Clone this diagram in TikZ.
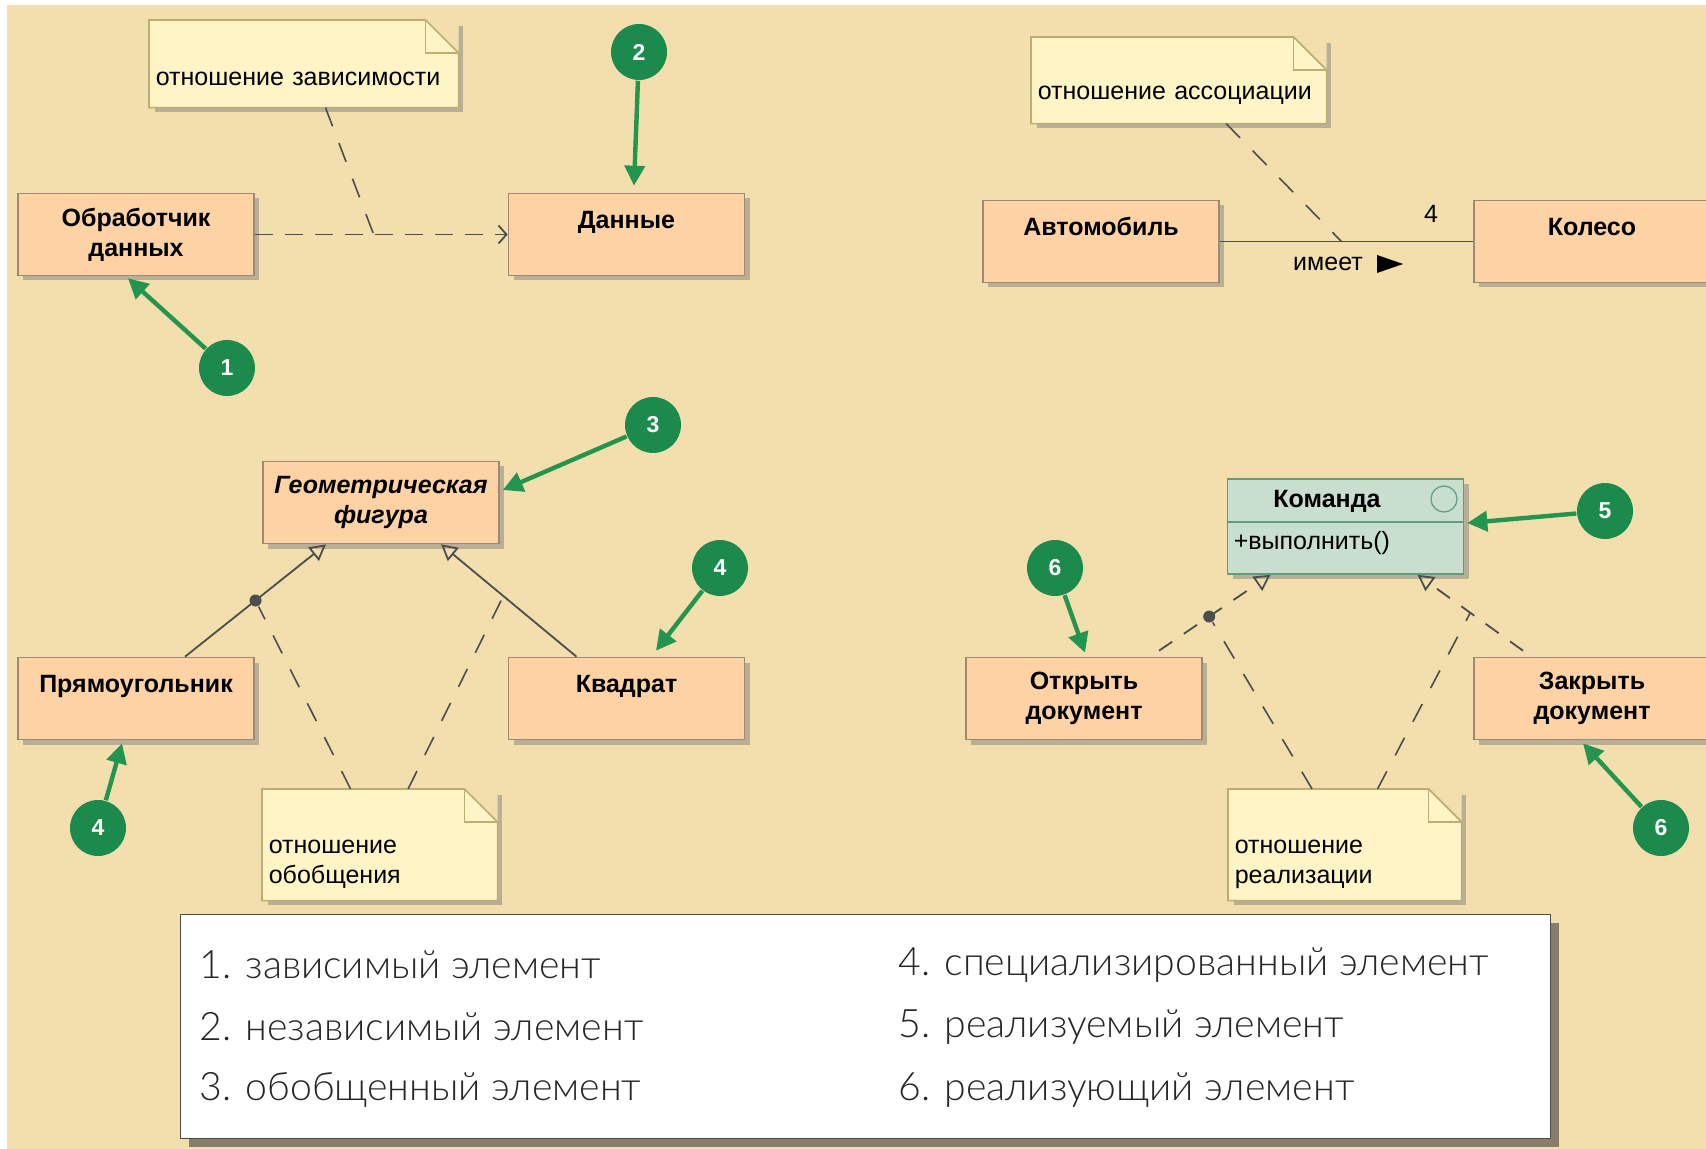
\documentclass[tikz,border=0pt]{standalone}
\usepackage{fontspec}
\setmainfont{Liberation Sans}
\newfontfamily\legendfont{Lato Light}
\usetikzlibrary{shapes, positioning, arrows.meta, shadows, calc}

\definecolor{bgtan}{HTML}{F2DFAD}
\definecolor{boxfill}{HTML}{FDD3A5}
\definecolor{boxline}{HTML}{9C8A72}
\definecolor{notefill}{HTML}{FFF4C6}
\definecolor{noteline}{HTML}{BCAE73}
\definecolor{cmdfill}{HTML}{C8DECF}
\definecolor{cmdline}{HTML}{5E9C80}
\definecolor{callgreen}{HTML}{1B8A4C}
\definecolor{arrowgreen}{HTML}{23954F}
\definecolor{relline}{HTML}{4D4D4D}

% folded corner and outline of a note
\newcommand{\notecorner}[1]{%
  \fill[bgtan] ([xshift=-16.5pt]#1.north east) -- (#1.north east) -- ([yshift=-16.5pt]#1.north east) -- cycle;
  \draw[noteline, line width=0.8pt] ([xshift=-16.5pt]#1.north east) -- (#1.north west) -- (#1.south west)
    -- (#1.south east) -- ([yshift=-16.5pt]#1.north east) -- cycle;
  \draw[noteline, line width=0.8pt] ([xshift=-16.5pt]#1.north east) |- ([yshift=-16.5pt]#1.north east);
}

\begin{document}
\begin{tikzpicture}[x=0.5pt, y=-0.5pt, thick,
    cls/.style = {draw=boxline, fill=boxfill, line width=0.8pt, minimum width=118pt, minimum height=41pt,
        align=center, font=\fontsize{12.5}{15}\selectfont\bfseries,
        drop shadow={shadow xshift=2.5pt, shadow yshift=-2.5pt, fill=black!50, opacity=.5}},
    note/.style = {fill=notefill, anchor=north west, align=left, inner xsep=3pt, inner ysep=0pt,
        font=\fontsize{12.5}{15}\selectfont,
        drop shadow={shadow xshift=2.5pt, shadow yshift=-2.5pt, fill=black!50, opacity=.5}},
    call/.style = {circle, fill=callgreen, minimum size=28pt, inner sep=0pt, text=white,
        font=\fontsize{11.5}{11.5}\selectfont\bfseries},
    callarrow/.style = {arrowgreen, line width=2.2pt, -{Triangle[length=10pt, width=10pt]}},
    dep/.style = {relline, line width=0.9pt, dash pattern=on 9pt off 6pt, -{Straight Barb[length=4pt, width=9pt]}},
    assoc/.style = {relline, line width=0.9pt},
    gen/.style = {relline, line width=0.9pt, -{Triangle[open, length=8pt, width=8.5pt]}},
    real/.style = {gen, dash pattern=on 8pt off 7pt},
    notelink/.style = {relline, line width=0.8pt, dash pattern=on 10pt off 9pt},
    joint/.style = {circle, fill=relline, inner sep=0pt, minimum size=6pt},
    plain/.style = {font=\fontsize{12.5}{15}\selectfont},
    legendtxt/.style = {anchor=west, text=black!85, font=\legendfont\fontsize{19.6}{24}\selectfont}
]
\fill[white] (0,0) rectangle (1706,1149);
\fill[bgtan] (7,5) rectangle (1706,1149);
\useasboundingbox (0,0) rectangle (1706,1149);

% dependency
\node[note, minimum width=154pt, minimum height=43pt, text width=148pt] (depnote) at (149,20) {\mbox{}\\[6.5pt]отношение зависимости};
\notecorner{depnote}
\node[cls] (proc) at (136,234.5) {Обработчик\\данных};
\node[cls] (data) at (626.5,234.5) {Данные\\\mbox{}};
\draw[dep] (proc) -- (data);
\draw[notelink] ($(depnote.south west)!.57!(depnote.south east)$) -- ($(proc.east)!.47!(data.west)$);

% association
\node[note, minimum width=147pt, minimum height=42.5pt, text width=141pt] (assocnote) at (1031,37) {\mbox{}\\[6.5pt]отношение ассоциации};
\notecorner{assocnote}
\node[cls] (car) at (1101,241.5) {Автомобиль\\\mbox{}};
\node[cls] (wheel) at (1592,241.5) {Колесо\\\mbox{}};
\draw[assoc] (car) -- (wheel);
\draw[notelink] ($(assocnote.south west)!.66!(assocnote.south east)$) -- ($(car.east)!.48!(wheel.west)$);
\node[plain] (mult) at (1431,214) {4};
\node[plain] (verb) at (1328,264) {имеет};
\coordinate (verbdir) at (1390,264);
\fill ([shift={(-13,-9)}]verbdir) -- ([shift={(13,0)}]verbdir) -- ([shift={(-13,9)}]verbdir) -- cycle;

% generalization
\node[cls, font=\fontsize{12.5}{15}\selectfont\bfseries\itshape] (figure) at (381,502.5) {Геометрическая\\фигура};
\node[cls] (rect) at (136,698.5) {Прямоугольник\\\mbox{}};
\node[cls] (square) at (626.5,698.5) {Квадрат\\\mbox{}};
\draw[gen] ([shift={(49,0)}]rect.north) -- node[joint, pos=.5] (genjoint) {} ([shift={(-55,0)}]figure.south);
\draw[gen] ([shift={(-50,0)}]square.north) -- coordinate[pos=.54] (genhook) ([shift={(60,0)}]figure.south);
\node[note, minimum width=117pt, minimum height=55pt, text width=111pt] (gennote) at (262,789) {\mbox{}\\[11pt]отношение\\обобщения};
\notecorner{gennote}
\draw[notelink] ($(gennote.north west)!.376!(gennote.north east)$) -- (genjoint);
\draw[notelink] ($(gennote.north west)!.62!(gennote.north east)$) -- (genhook);

% realization
\node[draw=cmdline, fill=cmdfill, line width=0.8pt, minimum width=118pt, minimum height=47.5pt,
    drop shadow={shadow xshift=2.5pt, shadow yshift=-2.5pt, fill=black!50, opacity=.5}] (cmd) at (1345.5,526.5) {};
\coordinate (cmdsplit) at (1345.5,522);
\draw[cmdline, line width=0.8pt] (cmd.west |- cmdsplit) -- (cmd.east |- cmdsplit);
\node[font=\fontsize{12.5}{15}\selectfont\bfseries] (cmdname) at (1327,501) {Команда};
\node[circle, draw=cmdline, line width=0.6pt, minimum size=13pt, inner sep=0pt] (cmdicon) at (1444,499) {};
\node[plain, anchor=west, inner sep=0pt] (cmdop) at (1233,543) {+выполнить()};
\node[cls] (open) at (1084,698.5) {Открыть\\документ};
\node[cls] (close) at (1592,698.5) {Закрыть\\документ};
\draw[real] ([shift={(75,-6)}]open.north) -- node[joint, pos=.45] (realjoint) {} ([shift={(-75,0)}]cmd.south);
\draw[real] ([shift={(-69,-6)}]close.north) -- coordinate[pos=.5] (realhook) ([shift={(72,0)}]cmd.south);
\node[note, minimum width=116pt, minimum height=55pt, text width=110pt] (realnote) at (1228,789) {\mbox{}\\[11pt]отношение\\реализации};
\notecorner{realnote}
\draw[notelink] ($(realnote.north west)!.36!(realnote.north east)$) -- (realjoint);
\draw[notelink] ($(realnote.north west)!.64!(realnote.north east)$) -- (realhook);

% callouts
\node[call] (c1) at (227,368) {1};
\node[call] (c2) at (639,52) {2};
\node[call] (c3) at (653,425) {3};
\node[call] (c4a) at (720,568) {4};
\node[call] (c4b) at (98,828) {4};
\node[call] (c5) at (1605,511) {5};
\node[call] (c6a) at (1055,568) {6};
\node[call] (c6b) at (1661,828) {6};
\draw[callarrow] (c1) -- ([shift={(-8,2)}]proc.south);
\draw[callarrow] (c2) -- ([shift={(7.5,-7)}]data.north);
\draw[callarrow] (c3) -- ([shift={(3,-12.5)}]figure.east);
\draw[callarrow] (c4a) -- ([shift={(29.5,-6)}]square.north);
\draw[callarrow] (c4b) -- ([shift={(-14,3)}]rect.south);
\draw[callarrow] (c5) -- ([shift={(3,-3.5)}]cmd.east);
\draw[callarrow] (c6a) -- ([shift={(1,-4)}]open.north);
\draw[callarrow] (c6b) -- ([shift={(-9,3)}]close.south);

% legend
\node[draw=black!70, fill=white, line width=0.6pt, anchor=north west, minimum width=685pt, minimum height=112pt,
    drop shadow={shadow xshift=4pt, shadow yshift=-4pt, fill=black!75, opacity=.6}] (legend) at (180,914) {};
\node[legendtxt] (leg1) at (192,965) {1. зависимый элемент};
\node[legendtxt] (leg2) at (192,1027) {2. независимый элемент};
\node[legendtxt] (leg3) at (192,1090) {3. обобщенный элемент};
\node[legendtxt] (leg4) at (891,965) {4. специализированный элемент};
\node[legendtxt] (leg5) at (891,1027) {5. реализуемый элемент};
\node[legendtxt] (leg6) at (891,1090) {6. реализующий элемент};
\end{tikzpicture}
\end{document}
